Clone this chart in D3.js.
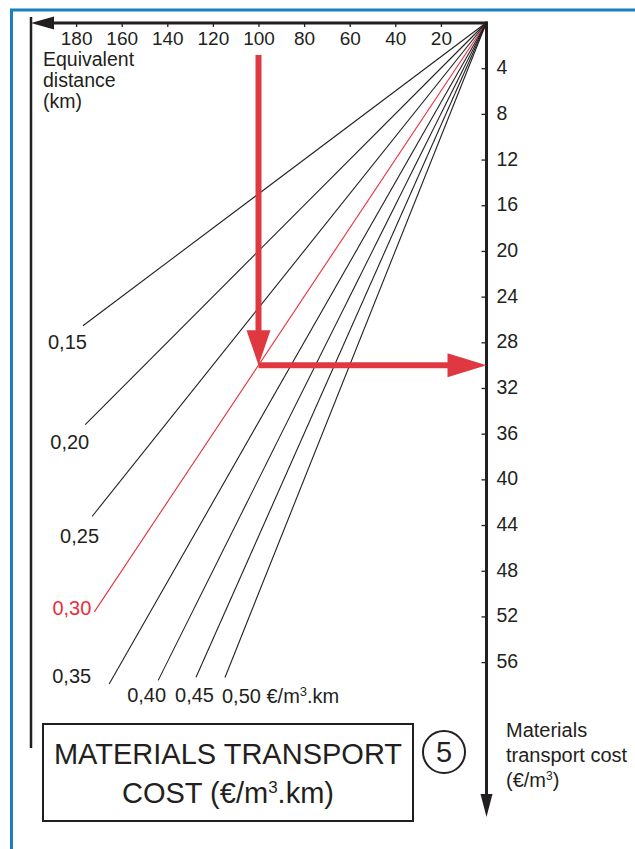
<!DOCTYPE html>
<html><head><meta charset="utf-8">
<script src="https://cdn.jsdelivr.net/npm/d3@7"></script>
<style>html,body{margin:0;padding:0;background:#fff}svg{display:block}</style>
</head><body><svg id="c" width="635" height="849"></svg>
<script>
// ---- data ----
const distanceTicks = [20, 40, 60, 80, 100, 120, 140, 160, 180];
const costTicks = [4, 8, 12, 16, 20, 24, 28, 32, 36, 40, 44, 48, 52, 56];
const rates = [0.15, 0.20, 0.25, 0.30, 0.35, 0.40, 0.45, 0.50];
const rateLabels = ["0,15", "0,20", "0,25", "0,30", "0,35", "0,40", "0,45", "0,50"];
const lineEndDistance = [177, 176, 173, 172, 165.5, 144, 127.4, 114.7];
const highlightRate = 0.30;
const exampleDistance = 100;
const exampleCost = 30;
const axisMaxDistance = 200;
const axisMaxCost = 70;

// ---- layout ----
const ink = "#231f20", red = "#e03841", redLine = "#e8303a", blue = "#1a7fc1";
const font = "'Liberation Sans', Arial, Helvetica, sans-serif";
const svg = d3.select("#c");
const x = d3.scaleLinear().domain([0, axisMaxDistance]).range([486.5, 30.5]);
const y = d3.scaleLinear().domain([0, axisMaxCost]).range([22.5, 822]);
const x0 = x(0), y0 = 23;

// blue frame
svg.append("path").attr("d", `M11.5,849 V10 H635`).attr("fill", "none")
  .attr("stroke", blue).attr("stroke-width", 3);

// left vertical line
svg.append("line").attr("x1", 31).attr("x2", 31).attr("y1", 17).attr("y2", 748)
  .attr("stroke", ink).attr("stroke-width", 2.5);

// top axis
const gTop = svg.append("g").attr("transform", `translate(0,${y0})`)
  .call(d3.axisBottom(x).tickValues(distanceTicks).tickSize(4).tickPadding(5));
gTop.select(".domain").remove();
gTop.selectAll(".tick line").attr("stroke", ink).attr("stroke-width", 1.3);
gTop.selectAll(".tick text").attr("fill", ink).style("font", `19px ${font}`);
svg.append("line").attr("x1", 50).attr("x2", x0 + 1).attr("y1", y0).attr("y2", y0)
  .attr("stroke", ink).attr("stroke-width", 3);
svg.append("path").attr("d", `M31,${y0} L54,${y0 - 6.5} L54,${y0 + 6.5} Z`).attr("fill", ink);

// right axis
const gR = svg.append("g").attr("transform", `translate(${x0},0)`)
  .call(d3.axisRight(y).tickValues(costTicks).tickSize(-5).tickPadding(10));
gR.select(".domain").remove();
gR.selectAll(".tick line").attr("stroke", ink).attr("stroke-width", 1.3);
gR.selectAll(".tick text").attr("fill", ink).attr("dy", "0.28em").style("font", `19.5px ${font}`);
svg.append("line").attr("x1", x0).attr("x2", x0).attr("y1", y0 - 1.5).attr("y2", 800)
  .attr("stroke", ink).attr("stroke-width", 3);
svg.append("path").attr("d", `M${x0},817 L${x0 - 6},794 L${x0 + 6},794 Z`).attr("fill", ink);

// rate lines
rates.forEach((r, i) => {
  const d = lineEndDistance[i];
  svg.append("line")
    .attr("x1", x0).attr("y1", y(0))
    .attr("x2", x(d)).attr("y2", y(r * d))
    .attr("stroke", r === highlightRate ? redLine : ink)
    .attr("stroke-width", 1.1);
});

// rate labels (offsets relative to line end)
const labelOffsets = [
  {dx: 4, dy: 23, anchor: "end"}, {dx: 4, dy: 24, anchor: "end"},
  {dx: 7, dy: 27, anchor: "end"}, {dx: -3, dy: 3, anchor: "end"},
  {dx: -18, dy: -1, anchor: "end"}, {dx: -31, dy: 22, anchor: "start"},
  {dx: -21, dy: 25, anchor: "start"}, {dx: -3, dy: 25, anchor: "start"}
];
rates.forEach((r, i) => {
  const d = lineEndDistance[i], o = labelOffsets[i];
  const t = svg.append("text")
    .attr("x", x(d) + o.dx).attr("y", y(r * d) + o.dy)
    .attr("text-anchor", o.anchor)
    .attr("fill", r === highlightRate ? redLine : ink)
    .style("font", `20px ${font}`)
    .text(rateLabels[i]);
  if (i === rates.length - 1) {
    t.append("tspan").text(" €/m");
    t.append("tspan").attr("dy", -7).style("font-size", "13px").text("3");
    t.append("tspan").attr("dy", 7).text(".km");
  }
});

// red example arrows
const ex = x(exampleDistance), ey = y(exampleCost);
svg.append("line").attr("x1", ex).attr("x2", ex).attr("y1", 55).attr("y2", ey - 30)
  .attr("stroke", red).attr("stroke-width", 6);
svg.append("path").attr("d", `M${ex},${ey} L${ex - 12},${ey - 35} L${ex + 12},${ey - 35} Z`).attr("fill", red);
svg.append("line").attr("x1", ex).attr("x2", x0 - 35).attr("y1", ey).attr("y2", ey)
  .attr("stroke", red).attr("stroke-width", 6);
svg.append("path").attr("d", `M${x0},${ey} L${x0 - 39},${ey - 12} L${x0 - 39},${ey + 12} Z`).attr("fill", red);

// axis titles
const tl = svg.append("text").attr("fill", ink).style("font", `19.5px ${font}`);
["Equivalent", "distance", "(km)"].forEach((s, i) =>
  tl.append("tspan").attr("x", 43).attr("y", 66 + i * 21).text(s));

const tr = svg.append("text").attr("fill", ink).style("font", `20px ${font}`);
tr.append("tspan").attr("x", 506).attr("y", 737).text("Materials");
tr.append("tspan").attr("x", 506).attr("y", 762).text("transport cost");
tr.append("tspan").attr("x", 506).attr("y", 787).text("(€/m");
tr.append("tspan").attr("dy", -7).style("font-size", "12px").text("3");
tr.append("tspan").attr("dy", 7).text(")");

// title box
svg.append("rect").attr("x", 43).attr("y", 724).attr("width", 370).attr("height", 97)
  .attr("fill", "none").attr("stroke", ink).attr("stroke-width", 2);
svg.append("text").attr("fill", ink).attr("text-anchor", "middle")
  .style("font", `29px ${font}`).attr("x", 228).attr("y", 764).text("MATERIALS TRANSPORT");
const l2 = svg.append("text").attr("fill", ink).attr("text-anchor", "middle")
  .style("font", `29px ${font}`).attr("x", 228).attr("y", 803);
l2.append("tspan").text("COST (€/m");
l2.append("tspan").attr("dy", -10).style("font-size", "17px").text("3");
l2.append("tspan").attr("dy", 10).text(".km)");

// circled number
svg.append("circle").attr("cx", 444).attr("cy", 752).attr("r", 21)
  .attr("fill", "none").attr("stroke", ink).attr("stroke-width", 2);
svg.append("text").attr("x", 444).attr("y", 762).attr("text-anchor", "middle")
  .attr("fill", ink).style("font", `29px ${font}`).text("5");
</script></body></html>
